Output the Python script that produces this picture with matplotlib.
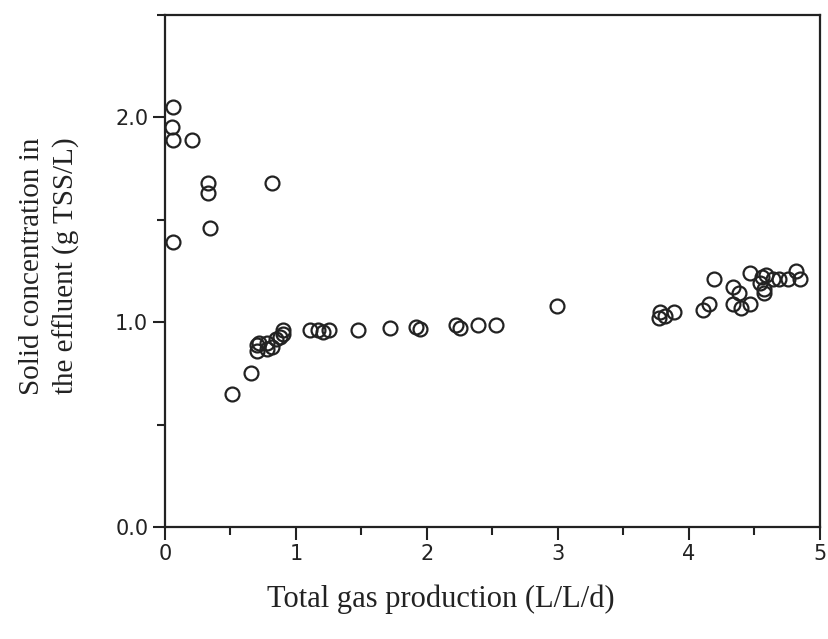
import numpy as np
import matplotlib
matplotlib.use("Agg")
import matplotlib.pyplot as plt
from matplotlib.ticker import MultipleLocator

# gas production (L/L/d) vs effluent solids (g TSS/L)
gas = [0.06, 0.05, 0.06, 0.21, 0.33, 0.33, 0.82, 0.34, 0.06,
       0.51, 0.66, 0.70, 0.70, 0.72, 0.78, 0.78, 0.82, 0.85, 0.90, 0.90, 0.88,
       1.11, 1.17, 1.21, 1.25, 1.47, 1.72, 1.92, 1.95, 2.22, 2.25, 2.39, 2.53,
       2.99,
       3.77, 3.78, 3.82, 3.89, 4.11, 4.15, 4.19, 4.34, 4.38, 4.34, 4.40, 4.47,
       4.47, 4.54, 4.57, 4.57, 4.56, 4.59, 4.64, 4.69, 4.76, 4.82, 4.85]
tss = [2.05, 1.95, 1.89, 1.89, 1.68, 1.63, 1.68, 1.46, 1.39,
       0.65, 0.75, 0.86, 0.89, 0.90, 0.90, 0.87, 0.88, 0.92, 0.94, 0.96, 0.93,
       0.96, 0.96, 0.95, 0.96, 0.96, 0.97, 0.975, 0.965, 0.985, 0.97, 0.985, 0.985,
       1.08,
       1.02, 1.05, 1.03, 1.05, 1.06, 1.09, 1.21, 1.17, 1.14, 1.09, 1.07, 1.09,
       1.24, 1.19, 1.14, 1.16, 1.22, 1.23, 1.21, 1.21, 1.21, 1.25, 1.21]

xticks = [0, 1, 2, 3, 4, 5]
yticks = [0.0, 1.0, 2.0]

fig = plt.figure(figsize=(8.29, 6.39), dpi=100)
fig.subplots_adjust(left=0.199, right=0.989, top=0.977, bottom=0.175)
ax = fig.add_subplot(1, 1, 1)

ax.plot(gas, tss, linestyle='none', marker='o', markersize=10,
        markerfacecolor='none', markeredgecolor='#222222', markeredgewidth=1.6)

ax.set_xlim(0, 5)
ax.set_ylim(0, 2.5)
ax.set_xticks(xticks)
ax.set_xticklabels([str(v) for v in xticks])
ax.set_yticks(yticks)
ax.set_yticklabels(['%.1f' % v for v in yticks])
ax.xaxis.set_minor_locator(MultipleLocator(0.5))
ax.yaxis.set_minor_locator(MultipleLocator(0.5))

ax.tick_params(which='major', direction='out', length=9, width=1.5,
               labelsize=15, colors='#222222', pad=3)
ax.tick_params(which='minor', direction='out', length=6, width=1.5,
               colors='#222222')
for s in ax.spines.values():
    s.set_linewidth(1.6)
    s.set_color('#222222')

ax.set_xlabel('Total gas production (L/L/d)', family='Liberation Serif',
              fontsize=22, color='#222222')
ax.xaxis.set_label_coords(0.421, -0.112)
ax.set_ylabel('Solid concentration in\nthe effluent (g TSS/L)',
              family='Liberation Serif', fontsize=21,
              color='#222222', linespacing=1.35)
ax.yaxis.set_label_coords(-0.130, 0.51)

fig.savefig('out.png', dpi=100)
